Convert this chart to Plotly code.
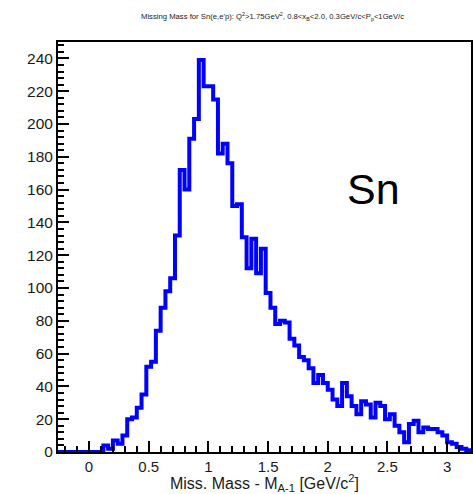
import plotly.graph_objects as go

# Histogram: bin width 0.04 GeV/c^2, left edges starting at -0.28
bin_start = -0.28
bin_width = 0.04
counts = [
    0, 0, 0, 0, 0, 0, 0,          # -0.28 .. -0.04
    0, 0, 0,                      # 0.00 .. 0.08
    4, 2, 7, 5, 10, 20, 21, 27, 35, 52,   # 0.12 .. 0.48
    55, 74, 88, 98, 106, 132, 172, 160, 191, 203,  # 0.52 .. 0.88
    239, 223, 223, 215, 182, 188, 176, 150, 151, 131,  # 0.92 .. 1.28
    112, 130, 109, 124, 97, 88, 78, 80, 79, 69,   # 1.32 .. 1.68
    65, 58, 56, 51, 42, 47, 42, 38, 32, 28,       # 1.72 .. 2.08
    42, 34, 28, 23, 31, 29, 21, 30, 28, 20,       # 2.12 .. 2.48
    23, 16, 12, 6, 17, 19, 12, 15, 14, 14,        # 2.52 .. 2.88
    12, 10, 6, 5, 3, 2, 1,                        # 2.92 .. 3.16
]

x_range = [-0.26, 3.2]
y_range = [0, 250]
x_tick_vals = [0, 0.5, 1, 1.5, 2, 2.5, 3]
x_tick_text = ["0", "0.5", "1", "1.5", "2", "2.5", "3"]
y_tick_vals = [0, 20, 40, 60, 80, 100, 120, 140, 160, 180, 200, 220, 240]

edges = [round(bin_start + i * bin_width, 4) for i in range(len(counts) + 1)]
ys = counts + [counts[-1]]

fig = go.Figure()
fig.add_trace(go.Scatter(
    x=edges, y=ys, mode="lines", line=dict(shape="hv", color="#0000ff", width=4),
    hoverinfo="skip", showlegend=False,
))

font_family = "Liberation Sans, Arial, sans-serif"
fig.update_layout(
    width=473, height=494,
    margin=dict(l=58, r=0, t=42, b=42),
    paper_bgcolor="white", plot_bgcolor="white",
    font=dict(family=font_family, color="#1a1a1a", size=15),
    showlegend=False,
)
fig.update_xaxes(
    range=x_range, tickvals=x_tick_vals, ticktext=x_tick_text,
    showgrid=False, zeroline=False, showline=True, linecolor="black", linewidth=2,
    mirror=True, ticks="inside", ticklen=11, tickwidth=2, tickcolor="black",
    minor=dict(dtick=0.1, ticks="inside", ticklen=6, tickwidth=1.5, tickcolor="black", showgrid=False),
    tickfont=dict(size=15, family=font_family, color="#1a1a1a"),
    title=dict(text="Miss. Mass - M<sub>A-1</sub> [GeV/c<sup>2</sup>]", font=dict(size=16, family=font_family, color="#1a1a1a"), standoff=7),
)
fig.update_yaxes(
    range=y_range, tickvals=y_tick_vals,
    showgrid=False, zeroline=False, showline=True, linecolor="black", linewidth=2,
    mirror=True, ticks="inside", ticklen=11, tickwidth=2, tickcolor="black",
    minor=dict(dtick=4, ticks="inside", ticklen=6, tickwidth=1.5, tickcolor="black", showgrid=False),
    tickfont=dict(size=15.5, family=font_family, color="#1a1a1a"),
)
fig.add_annotation(
    text="Missing Mass for Sn(e,e'p): Q<sup>2</sup>>1.75GeV<sup>2</sup>, 0.8<x<sub>B</sub><2.0, 0.3GeV/c<P<sub>p</sub><1GeV/c",
    xref="paper", yref="paper", x=0.52, y=1.0, yshift=26, xanchor="center", yanchor="middle",
    showarrow=False, font=dict(size=7.7, family=font_family, color="#1a1a1a"),
)
fig.add_annotation(
    text="Sn", xref="paper", yref="paper", x=0.764, y=0.642,
    xanchor="center", yanchor="middle", showarrow=False,
    font=dict(size=43, family=font_family, color="black"),
)
fig.write_html("out.html")
